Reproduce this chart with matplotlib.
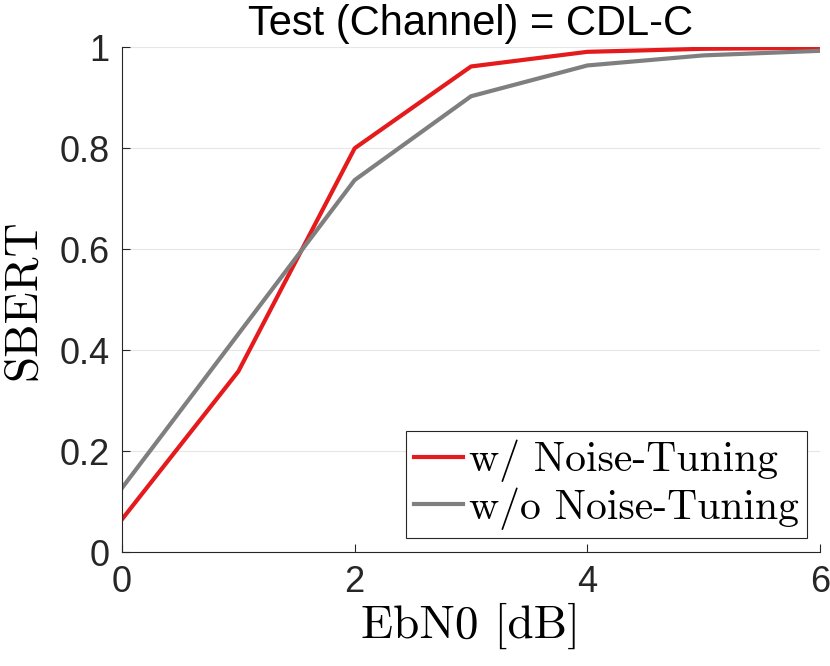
import matplotlib
matplotlib.use("Agg")
import matplotlib.pyplot as plt

# values
ebn0 = [0, 1, 2, 3, 4, 5, 6]
sbert_tuned = [0.065, 0.358, 0.80, 0.962, 0.991, 0.997, 0.999]
sbert_plain = [0.127, 0.432, 0.737, 0.903, 0.964, 0.984, 0.993]
labels = ["w/ Noise-Tuning", "w/o Noise-Tuning"]

serif = "cmr10"
sans = ["Liberation Sans", "DejaVu Sans"]

fig = plt.figure(figsize=(8.3, 6.66), dpi=100)
ax = fig.add_axes([0.147, 0.171, 0.841, 0.758])

ax.plot(ebn0, sbert_tuned, color="#e41a1c", lw=3, label=labels[0])
ax.plot(ebn0, sbert_plain, color="#7f7f7f", lw=3, label=labels[1])

ax.set_xlim(0, 6)
ax.set_ylim(0, 1)
ax.set_xticks([0, 2, 4, 6])
ax.set_yticks([0, 0.2, 0.4, 0.6, 0.8, 1])
ax.set_yticklabels(["0", "0.2", "0.4", "0.6", "0.8", "1"])
ax.tick_params(direction="in", length=6, width=0.8, labelsize=26, colors="#262626", pad=9)
for lab in ax.get_xticklabels() + ax.get_yticklabels():
    lab.set_family(sans)
ax.spines["top"].set_visible(False)
ax.spines["right"].set_visible(False)
ax.spines["left"].set_color("#262626")
ax.spines["bottom"].set_color("#262626")
ax.grid(axis="y", color="#e6e6e6", lw=0.8)
ax.set_axisbelow(True)

ax.set_title("Test (Channel) = CDL-C", fontsize=30, family=sans, pad=9)
ax.set_xlabel("EbN0 [dB]", fontsize=34, family=serif, labelpad=2)
ax.set_ylabel("SBERT", fontsize=34, family=serif, labelpad=11)

leg = ax.legend(loc="lower right", bbox_to_anchor=(0.982, 0.028), prop={"family": serif, "size": 30},
                frameon=True, fancybox=False, edgecolor="#262626", framealpha=1,
                handlelength=1.18, handletextpad=0.15, borderpad=0.2, labelspacing=0.12,
                borderaxespad=0)
leg.get_frame().set_linewidth(0.8)

fig.savefig("out.png", dpi=100)
